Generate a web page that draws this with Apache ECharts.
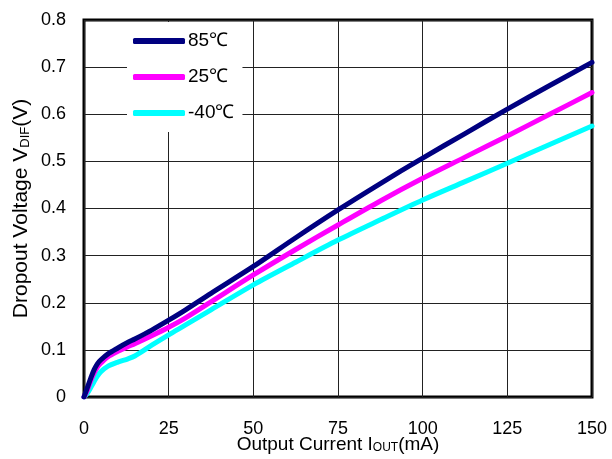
<!DOCTYPE html>
<html>
<head>
<meta charset="utf-8">
<script src="https://cdn.jsdelivr.net/npm/echarts@6/dist/echarts.min.js"></script>
<style>
  html, body { margin: 0; padding: 0; background: #fff; }
  #chart { width: 612px; height: 459px; }
</style>
</head>
<body>
<div id="chart"></div>
<script>
// Output current (mA) sample points shared by every curve
const currentMA = [0, 1, 2, 3, 4, 5, 7, 10, 13, 15, 20, 25, 30, 37.5, 50, 62.5, 75, 87.5, 100, 112.5, 125, 137.5, 150];

// Dropout voltage (V) at each temperature
const vdif85 = [0, 0.02, 0.04, 0.058, 0.071, 0.079, 0.091, 0.104, 0.116, 0.123, 0.142, 0.163, 0.185, 0.22, 0.277, 0.338, 0.397, 0.453, 0.507, 0.559, 0.611, 0.661, 0.71];
const vdif25 = [0, 0.015, 0.035, 0.051, 0.064, 0.072, 0.085, 0.097, 0.107, 0.113, 0.13, 0.148, 0.168, 0.202, 0.259, 0.313, 0.365, 0.416, 0.464, 0.509, 0.554, 0.6, 0.646];
const vdifM40 = [0, 0.008, 0.02, 0.033, 0.045, 0.054, 0.065, 0.074, 0.081, 0.087, 0.11, 0.132, 0.153, 0.185, 0.238, 0.286, 0.333, 0.376, 0.418, 0.457, 0.496, 0.536, 0.575];

const seriesNames = ['85℃', '25℃', '-40℃'];
const seriesColors = ['#000080', '#ff00ff', '#00ffff'];
const seriesValues = [vdif85, vdif25, vdifM40];

const xTicks = { min: 0, max: 150, interval: 25 };
const yTicks = { min: 0, max: 0.8, interval: 0.1 };

const chart = echarts.init(document.getElementById('chart'), null, { renderer: 'canvas' });

const font = 'Arial, "Liberation Sans", sans-serif';

const series = seriesNames.map((name, i) => ({
  name: name,
  type: 'line',
  smooth: 0.3,
  showSymbol: false,
  symbol: 'none',
  data: currentMA.map((x, k) => [x, seriesValues[i][k]]),
  lineStyle: { color: seriesColors[i], width: 5, cap: 'round', join: 'round' },
  itemStyle: { color: seriesColors[i] },
  z: 3 - i
}));

const subStyle = { fontFamily: font, fontSize: 12, color: '#000', verticalAlign: 'bottom', padding: [5, 0, 0, 0] };

chart.setOption({
  animation: false,
  backgroundColor: '#fff',
  textStyle: { fontFamily: font },
  grid: {
    left: 84, right: 20, top: 20, bottom: 62,
    outerBoundsMode: 'none',
    show: true, borderColor: '#000', borderWidth: 3, backgroundColor: 'transparent',
    containLabel: false
  },
  legend: {
    data: seriesNames.map((n, i) => ({ name: n, icon: 'roundRect', itemStyle: { color: seriesColors[i] } })),
    orient: 'vertical',
    left: 127, top: 22,
    padding: [8, 8, 8, 6],
    backgroundColor: '#fff',
    itemWidth: 52, itemHeight: 6,
    itemGap: 14,
    textStyle: { fontFamily: font, fontSize: 19, color: '#000', lineHeight: 22, padding: [0, 0, 0, -2] },
    z: 10
  },
  xAxis: {
    type: 'value',
    min: xTicks.min, max: xTicks.max, interval: xTicks.interval,
    name: 'Output Current I{sub|OUT}(mA)',
    nameLocation: 'middle',
    nameGap: 38,
    nameMoveOverlap: false,
    nameTextStyle: { fontFamily: font, fontSize: 19, color: '#000', rich: { sub: subStyle } },
    axisLine: { show: false },
    axisTick: { show: false },
    axisLabel: { fontFamily: font, fontSize: 18, color: '#000', margin: 23 },
    splitLine: { show: true, lineStyle: { color: '#222', width: 1 } }
  },
  yAxis: {
    type: 'value',
    min: yTicks.min, max: yTicks.max, interval: yTicks.interval,
    name: 'Dropout Voltage V{sub|DIF}(V)',
    nameLocation: 'middle',
    nameGap: 52,
    nameMoveOverlap: false,
    nameTextStyle: { fontFamily: font, fontSize: 21, color: '#000', rich: { sub: Object.assign({}, subStyle, { fontSize: 13 }) } },
    axisLine: { show: false },
    axisTick: { show: false },
    axisLabel: { fontFamily: font, fontSize: 18, color: '#000', margin: 18 },
    splitLine: { show: true, lineStyle: { color: '#222', width: 1 } }
  },
  series: series
});
</script>
</body>
</html>
